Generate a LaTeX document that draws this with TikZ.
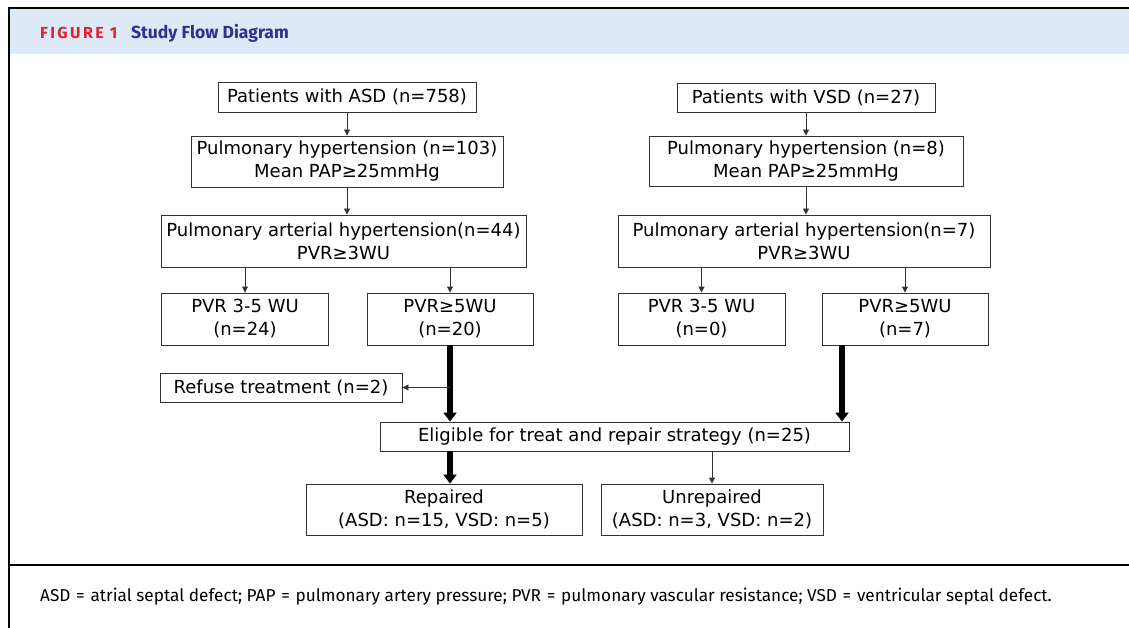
\documentclass[tikz,border=0pt]{standalone}
\usepackage{fontspec}
\setmainfont{DejaVu Sans}
\newfontfamily\capfont{Fira Sans}
\usetikzlibrary{arrows.meta}
\definecolor{headblue}{HTML}{DDE9F5}
\definecolor{figred}{HTML}{E3202C}
\definecolor{figblue}{HTML}{2E3192}
\definecolor{boxline}{HTML}{333333}
\begin{document}
\begin{tikzpicture}[x=1pt, y=-1pt,
        box/.style={draw=boxline, line width=0.9pt, inner sep=0pt, align=center,
            font=\fontsize{18}{23}\selectfont},
        thinarrow/.style={draw=boxline, line width=0.9pt, -{Triangle[width=6pt,length=6pt]}},
        fatarrow/.style={line width=6pt, -{Triangle[width=13pt,length=9pt]}}]
        \useasboundingbox (0,0) rectangle (1129,628);
        % frame and header band
        \fill [headblue] (10,9) rectangle (1129,54);
        \draw [line width=1.8pt] (9,628) -- (9,8) -- (1129,8);
        \draw [line width=1.8pt] (9,565) -- (1129,565);
        \node [anchor=base west, inner sep=0pt, text=figred, font=\capfont\bfseries\fontsize{16}{16}\selectfont\addfontfeatures{LetterSpace=15}] (figno) at (40,39) {FIGURE 1};
        \node [anchor=base west, inner sep=0pt, text=figblue, font=\capfont\bfseries\fontsize{17.5}{17.5}\selectfont] (figtitle) at (131,39) {Study Flow Diagram};
        % ASD branch
        \node [box, minimum width=258, minimum height=30] (asdall) at (347,97) {Patients with ASD (n=758)};
        \node [box, minimum width=312, minimum height=51] (asdph) at (347,161.5) {Pulmonary hypertension (n=103)\\Mean PAP≥25mmHg};
        \node [box, minimum width=365, minimum height=52] (asdpah) at (343.5,241) {Pulmonary arterial hypertension(n=44)\\PVR≥3WU};
        \node [box, minimum width=167, minimum height=52] (asdlow) at (245,319) {PVR 3-5 WU\\(n=24)};
        \node [box, minimum width=166, minimum height=52] (asdhigh) at (450,319) {PVR≥5WU\\(n=20)};
        \node [box, minimum width=242, minimum height=29] (refuse) at (281,387.5) {Refuse treatment (n=2)};
        % VSD branch
        \node [box, minimum width=258, minimum height=29] (vsdall) at (806,97.5) {Patients with VSD (n=27)};
        \node [box, minimum width=314, minimum height=50] (vsdph) at (806,161) {Pulmonary hypertension (n=8)\\Mean PAP≥25mmHg};
        \node [box, minimum width=372, minimum height=52] (vsdpah) at (804,241) {Pulmonary arterial hypertension(n=7)\\PVR≥3WU};
        \node [box, minimum width=167, minimum height=52] (vsdlow) at (701.5,319) {PVR 3-5 WU\\(n=0)};
        \node [box, minimum width=166, minimum height=52] (vsdhigh) at (905,319) {PVR≥5WU\\(n=7)};
        % outcome
        \node [box, minimum width=469, minimum height=29] (elig) at (614.5,436.5) {Eligible for treat and repair strategy (n=25)};
        \node [box, minimum width=276, minimum height=51] (rep) at (444,509.5) {Repaired\\(ASD: n=15, VSD: n=5)};
        \node [box, minimum width=222, minimum height=51] (unrep) at (712,509.5) {Unrepaired\\(ASD: n=3, VSD: n=2)};
        \coordinate (vsdout) at (842,345);
        % connectors
        \draw [thinarrow] (asdall) -- (asdph);
        \draw [thinarrow] (asdph.south) -- (asdph.south |- asdpah.north);
        \draw [thinarrow] (asdlow.north |- asdpah.south) -- (asdlow.north);
        \draw [thinarrow] (asdhigh.north |- asdpah.south) -- (asdhigh.north);
        \draw [thinarrow] (vsdall) -- (vsdph);
        \draw [thinarrow] (vsdph.south) -- (vsdph.south |- vsdpah.north);
        \draw [thinarrow] (vsdlow.north |- vsdpah.south) -- (vsdlow.north);
        \draw [thinarrow] (vsdhigh.north |- vsdpah.south) -- (vsdhigh.north);
        \draw [fatarrow] (asdhigh.south) -- (asdhigh.south |- elig.north);
        \draw [thinarrow] (asdhigh.south |- refuse.east) -- (refuse.east);
        \draw [fatarrow] (vsdout) -- (vsdout |- elig.north);
        \draw [fatarrow] (elig.south -| asdhigh.south) -- (rep.north -| asdhigh.south);
        \draw [thinarrow] (unrep.north |- elig.south) -- (unrep.north);
        % key
        \node [anchor=base west, inner sep=0pt, font=\capfont\fontsize{17.2}{17.2}\selectfont] (key) at (40,601) {ASD\,\,=\,\,atrial septal defect; PAP\,\,=\,\,pulmonary artery pressure; PVR\,\,=\,\,pulmonary vascular resistance; VSD\,\,=\,\,ventricular septal defect.};
\end{tikzpicture}
\end{document}
